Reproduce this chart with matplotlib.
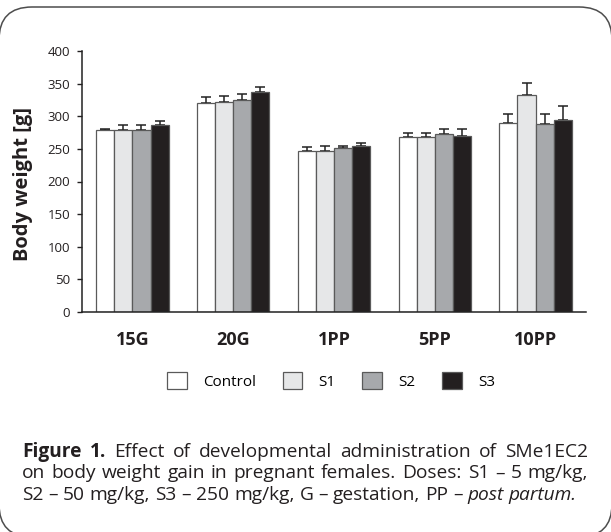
import matplotlib
matplotlib.use("Agg")
import matplotlib.pyplot as plt
import numpy as np
from matplotlib.patches import FancyBboxPatch
from matplotlib.transforms import IdentityTransform

categories = ["15G", "20G", "1PP", "5PP", "10PP"]
groups = ["Control", "S1", "S2", "S3"]
control = [279, 320, 247, 268, 290]
s1 = [279, 322, 247, 268, 332]
s2 = [279, 325, 251, 273, 288]
s3 = [286, 337, 255, 270, 295]
control_err = [2, 9, 6, 7, 13]
s1_err = [8, 9, 7, 7, 19]
s2_err = [7, 9, 4, 7, 16]
s3_err = [7, 8, 4, 10, 21]
colors = ["#ffffff", "#e6e7e8", "#a7a9ac", "#231f20"]

caption_lines = [
    [("Figure", "bold", "normal"), ("1.", "bold", "normal"), ("Effect", "normal", "normal"),
     ("of", "normal", "normal"), ("developmental", "normal", "normal"),
     ("administration", "normal", "normal"), ("of", "normal", "normal"), ("SMe1EC2", "normal", "normal")],
    [(w, "normal", "normal") for w in
     "on body weight gain in pregnant females. Doses: S1 – 5 mg/kg,".split(" ")],
    [(w, "normal", "normal") for w in
     "S2 – 50 mg/kg, S3 – 250 mg/kg, G – gestation, PP –".split(" ")]
    + [("post", "normal", "italic"), ("partum.", "normal", "italic")],
]

plt.rcParams["font.family"] = ["Open Sans", "DejaVu Sans"]

W, H = 611, 532
fig = plt.figure(figsize=(W / 100, H / 100), dpi=100)
ax = fig.add_axes([82 / W, 220 / H, 504 / W, 261 / H])

values = [control, s1, s2, s3]
errors = [control_err, s1_err, s2_err, s3_err]
x = np.arange(len(categories))
bw = 0.18
for i, (vals, errs) in enumerate(zip(values, errors)):
    pos = x + (i - 1.5) * bw
    ax.bar(pos, vals, bw, color=colors[i], edgecolor="#5a5a5a", linewidth=0.9,
           label=groups[i], zorder=2)
    ax.errorbar(pos, vals, yerr=[np.zeros(len(errs)), errs], fmt="none",
                ecolor="#222222", elinewidth=1.1, capsize=3.6, capthick=1.1, zorder=1)

ax.set_xlim(-0.5, len(categories) - 0.5)
ax.set_ylim(0, 400)
ax.set_yticks(range(0, 401, 50))
ax.set_xticks(x)
ax.set_xticklabels(categories, fontweight="bold", fontsize=13)
ax.tick_params(axis="x", length=0, pad=14, colors="#231f20")
ax.tick_params(axis="y", length=3.6, width=1, pad=5, labelsize=9.5, colors="#231f20")
for side in ["top", "right"]:
    ax.spines[side].set_visible(False)
for side in ["left", "bottom"]:
    ax.spines[side].set_linewidth(1.1)
    ax.spines[side].set_color("#222222")
ax.set_ylabel("Body weight [g]", fontweight="bold", fontsize=14.5, color="#231f20")
ax.yaxis.set_label_coords(-0.097, 0.49)

fig.legend(loc="center", bbox_to_anchor=(331 / W, 151 / H), ncol=4, frameon=False,
           fontsize=11, handlelength=1.3, handleheight=1.3, handletextpad=1.05,
           columnspacing=1.75)

# rounded frame round the whole figure
frame = FancyBboxPatch((-1, -5), 613, 530, boxstyle="round,pad=0,rounding_size=33",
                       transform=IdentityTransform(), facecolor="none",
                       edgecolor="#4d4d4d", linewidth=1.1, clip_on=False)
fig.add_artist(frame)

# caption, justified by hand
renderer = fig.canvas.get_renderer()
x0, x1 = 22, 588
baselines = [75, 53.5, 32]
cap_size = 13.8
for li, (words, yb) in enumerate(zip(caption_lines, baselines)):
    texts = [fig.text(0, yb, w, fontsize=cap_size, fontweight=wt, fontstyle=st,
                      va="baseline", ha="left", color="#231f20", transform=IdentityTransform())
             for w, wt, st in words]
    widths = [t.get_window_extent(renderer).width for t in texts]
    if li < len(caption_lines) - 1:
        gap = (x1 - x0 - sum(widths)) / (len(texts) - 1)
    else:
        gap = cap_size * 100 / 72 * 0.26
    cur = x0
    for t, w in zip(texts, widths):
        t.set_x(cur)
        cur += w + gap

fig.savefig("out.png", dpi=100)
